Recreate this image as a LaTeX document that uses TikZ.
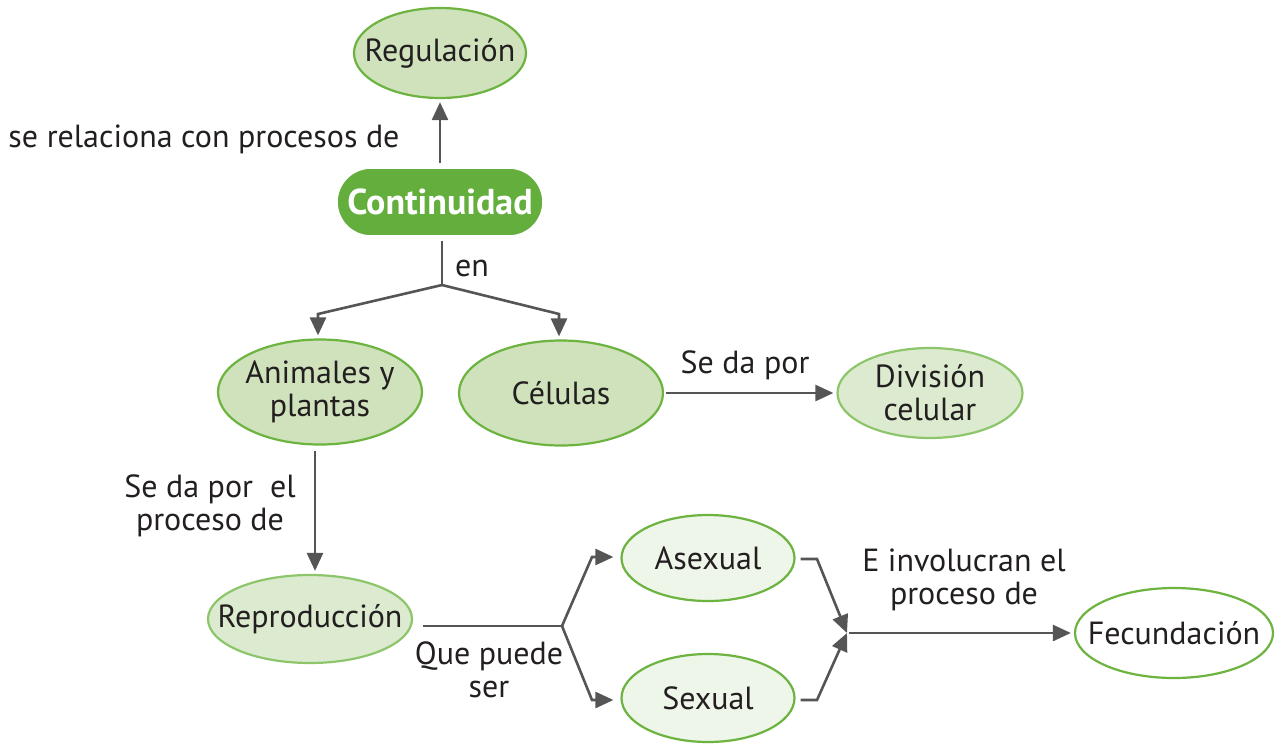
\documentclass[tikz,border=0pt]{standalone}
\usepackage{fontspec}
\setmainfont{PT Sans}
\usetikzlibrary{shapes.geometric,shapes.misc,arrows.meta}
\definecolor{txt}{HTML}{231F20}
\definecolor{dkgreen}{HTML}{63AE3D}
\definecolor{brd}{HTML}{6CB33F}
\definecolor{brdl}{HTML}{8DC56A}
\definecolor{fillA}{HTML}{CFE2BC}
\definecolor{fillB}{HTML}{DCEBD0}
\definecolor{fillC}{HTML}{EEF5E9}
\definecolor{lin}{HTML}{555555}
\begin{document}
\begin{tikzpicture}[x=0.5pt,y=-0.5pt,
  font=\fontsize{16}{16.5}\selectfont, text=txt,
  ell/.style={ellipse, draw=brd, line width=1.1pt, inner sep=0pt},
  con/.style={draw=lin, line width=1.3pt},
  arr/.style={con, -{Triangle[length=9pt,width=8pt]}, shorten >=1.5pt},
  lbl/.style={align=center, inner sep=0pt, text=txt}]
\useasboundingbox (0,0) rectangle (1280,745);

\node[ell, fill=fillA, minimum width=86pt, minimum height=45pt, label={[lbl]center:Regulación}] (reg) at (440,53) {};
\node[rounded rectangle, fill=dkgreen, draw=white, line width=0.8pt, minimum width=103pt, minimum height=34pt, inner sep=0pt,
  text=white, font=\fontsize{18}{19}\selectfont\bfseries] (cont) at (440,202) {Continuidad};
\node[ell, fill=fillA, minimum width=102pt, minimum height=52.5pt, label={[lbl]center:{Animales y\\plantas}}] (ani) at (320,392) {};
\node[ell, fill=fillA, minimum width=102pt, minimum height=52.5pt, label={[lbl]center:Células}] (cel) at (561,393) {};
\node[ell, draw=brdl, fill=fillB, minimum width=92.5pt, minimum height=45pt, label={[lbl]center:{División\\celular}}] (div) at (930,393) {};
\node[ell, draw=brdl, fill=fillB, minimum width=102pt, minimum height=44pt, label={[lbl]center:Reproducción}] (rep) at (310,619) {};
\node[ell, fill=fillC, minimum width=86.5pt, minimum height=43pt, label={[lbl]center:Asexual}] (asex) at (708,558) {};
\node[ell, fill=fillC, minimum width=86.5pt, minimum height=44pt, label={[lbl]center:Sexual}] (sex) at (708,698) {};
\node[ell, fill=white, minimum width=99pt, minimum height=45pt, label={[lbl]center:Fecundación}] (fec) at (1174,633) {};

\node[lbl] (l1) at (204,139) {se relaciona con procesos de};
\node[lbl] (l2) at (472,268) {en};
\node[lbl] (l3) at (745,365) {Se da por};
\node[lbl] (l4) at (210,506) {Se da por\ \ el\\proceso de};
\node[lbl] (l5) at (489,670) {Que puede\\ser};
\node[lbl] (l6) at (964,580) {E involucran el\\proceso de};

\coordinate (j1) at (442,285);
\coordinate (bl) at (318,314);
\coordinate (br) at (559,314);
\coordinate (j2) at (562,626);
\coordinate (ua) at (592,557);
\coordinate (da) at (592,700);
\coordinate (ka) at (817,559);
\coordinate (ks) at (817,700);
\coordinate (jf) at (847,633);

\draw[arr, shorten <=2pt] (cont.north) -- (reg.south);
\draw[con, shorten <=2pt] (cont.south -| j1) -- (j1);
\draw[arr] (j1) -- (bl) -- (bl |- ani.north);
\draw[arr] (j1) -- (br) -- (br |- cel.north);
\draw[arr, shorten <=1pt] (cel.east) -- (div.west);
\draw[arr, shorten <=2.5pt] ([xshift=-2.5pt]ani.south) -- ([xshift=2.5pt]rep.north);
\draw[con, shorten <=5pt] (rep.east |- j2) -- (j2);
\draw[arr, shorten >=3.5pt] (j2) -- (ua) -- (asex.west |- ua);
\draw[arr, shorten >=3.5pt] (j2) -- (da) -- (sex.west |- da);
\draw[arr, shorten <=2.5pt, shorten >=0pt] (asex.east |- ka) -- (ka) -- (jf);
\draw[arr, shorten <=2.5pt, shorten >=0pt] (sex.east |- ks) -- (ks) -- (jf);
\draw[arr, shorten <=1pt] (jf) -- (fec.west);
\end{tikzpicture}
\end{document}
